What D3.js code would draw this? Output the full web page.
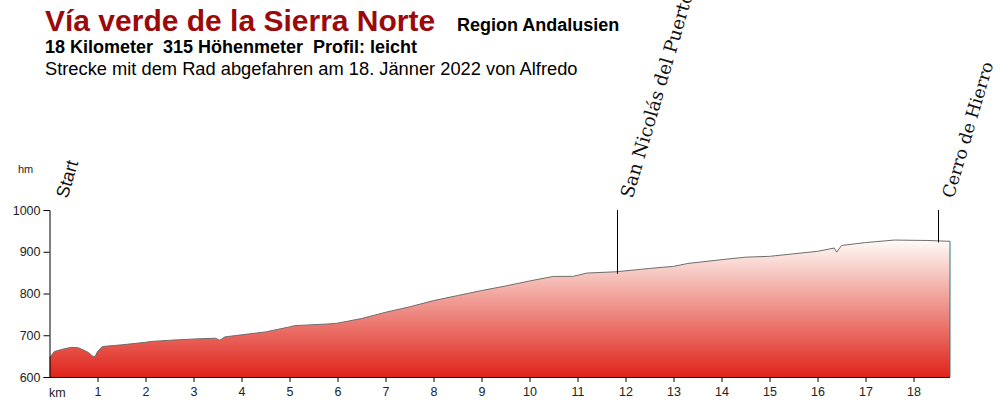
<!DOCTYPE html>
<meta charset="utf-8">
<style>
body { margin: 0; background: #fff; }
.axis text { font: 12.5px Arial, "Liberation Sans", sans-serif; fill: #222; }
.axis path, .axis line { stroke: #000; }
.ort { font: 17.5px "DejaVu Serif", serif; fill: #111; }
</style>
<body>
<script src="https://d3js.org/d3.v7.min.js"></script>
<script>

// profile distance (km) and altitude (m)
var km = [0, 0.1, 0.25, 0.45, 0.6, 0.7, 0.82, 0.9, 0.95, 1.0, 1.1, 1.5, 2, 2.1, 2.5, 3, 3.45, 3.55, 3.65, 4, 4.5, 5, 5.1, 5.8,
	6, 6.5, 7, 7.5, 8, 8.5, 9, 9.5, 10, 10.5, 10.9, 11.2, 11.8, 12.5, 13, 13.3, 14, 14.5, 15, 15.5, 16,
	16.35, 16.4, 16.5, 17, 17.6, 18.3, 18.76];
var hoehe = [646, 661, 666, 671, 670, 665, 658, 650, 649, 661, 673, 677, 683, 685, 688, 691, 693, 688, 696, 701, 708, 720, 723, 727,
	729, 740, 755, 768, 783, 795, 807, 818, 830, 841, 841, 849, 852, 860, 865, 872, 881, 887, 889, 895, 901,
	909, 899, 915, 922, 928, 927, 925];

// places along the route
var orte = ["Start", "San Nicolás del Puerto", "Cerro de Hierro"];
var orteKm = [0, 11.82, 18.52];

var xTicks = d3.range(1, 19);
var yTicks = [600, 700, 800, 900, 1000];

var width = 1000, height = 405;

var svg = d3.select("body").append("svg")
	.attr("width", width)
	.attr("height", height);

var x = d3.scaleLinear().domain([0, 18.76]).range([49.5, 950]);
var y = d3.scaleLinear().domain([600, 1000]).range([377, 210]);

var data = km.map(function(d, i) { return { km: d, h: hoehe[i] }; });

// gradient red -> white
var grad = svg.append("defs").append("linearGradient")
	.attr("id", "rot")
	.attr("gradientUnits", "userSpaceOnUse")
	.attr("x1", 0).attr("x2", 0)
	.attr("y1", y(600)).attr("y2", y(928));
grad.append("stop").attr("offset", "0%").attr("stop-color", "#e0231a");
grad.append("stop").attr("offset", "50%").attr("stop-color", "#ee9088");
grad.append("stop").attr("offset", "100%").attr("stop-color", "#fffbf7");

var area = d3.area()
	.x(function(d) { return x(d.km); })
	.y0(y(600))
	.y1(function(d) { return y(d.h); });

svg.append("path")
	.datum(data)
	.attr("d", area)
	.attr("fill", "url(#rot)");

svg.append("path")
	.datum(data)
	.attr("d", d3.line().x(function(d) { return x(d.km); }).y(function(d) { return y(d.h); }))
	.attr("fill", "none")
	.attr("stroke", "#6e6e6e")
	.attr("stroke-width", 1);

// closing edge on the right
svg.append("line")
	.attr("x1", x(18.76)).attr("x2", x(18.76))
	.attr("y1", y(hoehe[hoehe.length - 1])).attr("y2", y(600))
	.attr("stroke", "#2f7c7c");

// axes
svg.append("g")
	.attr("class", "axis")
	.attr("transform", "translate(0," + y(600) + ")")
	.call(d3.axisBottom(x).tickValues(xTicks).tickSizeOuter(0).tickSize(5).tickPadding(5))
	.call(function(g) { g.select(".domain").attr("d", "M49.5,0.5H950"); });

svg.append("g")
	.attr("class", "axis")
	.attr("transform", "translate(49.5,0)")
	.call(d3.axisLeft(y).tickValues(yTicks).tickFormat(d3.format("d")).tickSizeOuter(0).tickSize(6).tickPadding(3));

svg.append("text")
	.attr("x", 49).attr("y", 397)
	.style("font", "12.5px Arial, sans-serif").attr("fill", "#222")
	.text("km");
svg.append("text")
	.attr("x", 18).attr("y", 173)
	.style("font", "11px Arial, sans-serif").attr("fill", "#222")
	.text("hm");

// place markers
var labels = [];
orte.forEach(function(name, i) {
	var px = Math.round(x(orteKm[i])) + 0.5;
	if (i > 0) {
		var h = d3.max(data.filter(function(d) { return Math.abs(d.km - orteKm[i]) < 0.3; }), function(d) { return d.h; });
		svg.append("line")
			.attr("x1", px).attr("x2", px)
			.attr("y1", y(1000)).attr("y2", y(h) + 2)
			.attr("stroke", "#000");
	}
	labels.push(svg.append("text")
		.attr("class", "ort")
		.attr("transform", "translate(" + (px + (i == 0 ? 17 : 15)) + ",199) rotate(-73.5)")
		.style("font-family", i == 0 ? "Arial, 'Liberation Sans', sans-serif" : null)
		.style("font-size", i == 0 ? "18px" : null)
		.text(name));
});

// serif labels: size so that "Cerro de Hierro" is about 141px long
var len = labels[2].node().getComputedTextLength();
var fs = Math.min(17.5, 17.5 * 141 / len);
labels[1].style("font-size", (fs * 1.06) + "px");
labels[2].style("font-size", fs + "px");

// titles
svg.append("text")
	.attr("x", 45).attr("y", 31)
	.style("font", "bold 30px Arial, 'Liberation Sans', sans-serif")
	.attr("fill", "#9b0a0a")
	.text("Vía verde de la Sierra Norte");
svg.append("text")
	.attr("x", 457).attr("y", 31)
	.style("font", "bold 18px Arial, 'Liberation Sans', sans-serif")
	.text("Region Andalusien");
svg.append("text")
	.attr("x", 45).attr("y", 53)
	.style("font", "bold 18px Arial, 'Liberation Sans', sans-serif")
	.style("white-space", "pre")
	.text("18 Kilometer  315 Höhenmeter  Profil: leicht");
svg.append("text")
	.attr("x", 45).attr("y", 75)
	.style("font", "18.3px Arial, 'Liberation Sans', sans-serif")
	.text("Strecke mit dem Rad abgefahren am 18. Jänner 2022 von Alfredo");

</script>
</body>
